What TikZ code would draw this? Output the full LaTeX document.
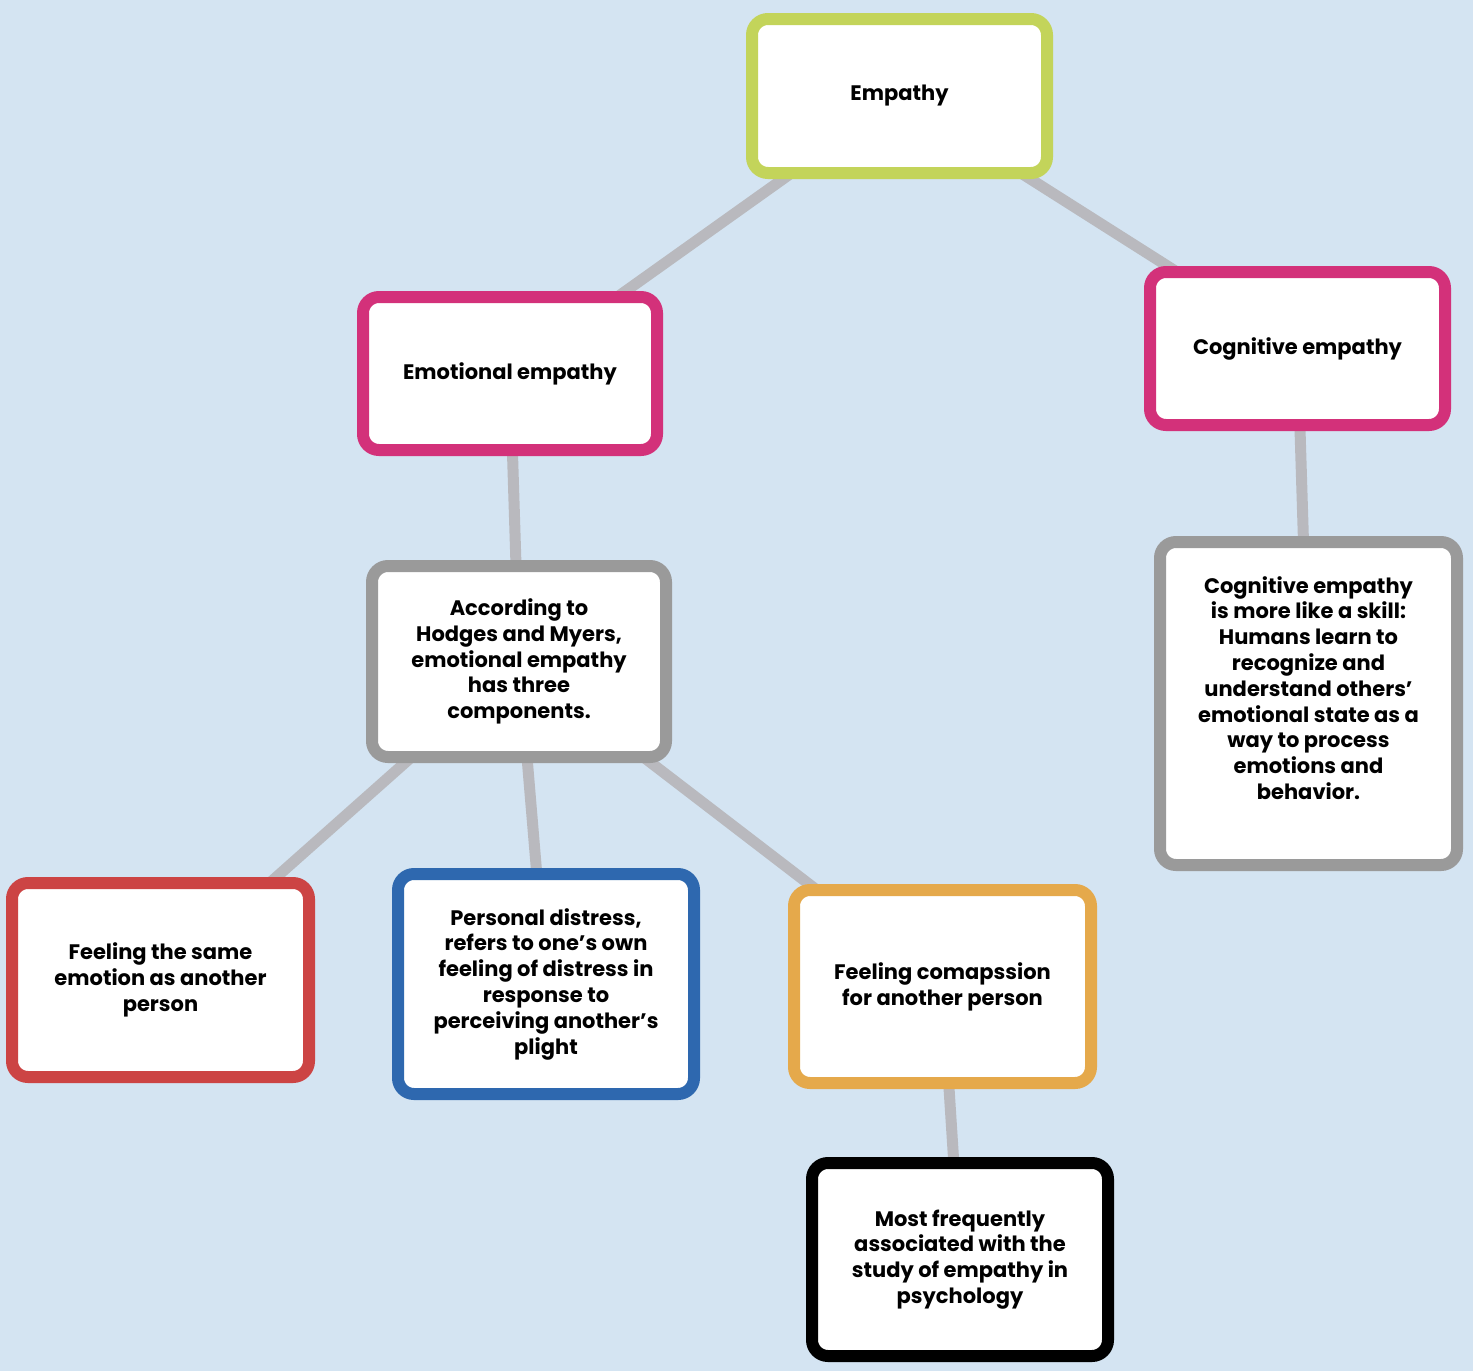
\documentclass[tikz,border=0pt]{standalone}
\usepackage{fontspec}
\setmainfont{Poppins}
\usetikzlibrary{backgrounds}
\definecolor{bgc}{HTML}{D4E4F2}
\definecolor{linkc}{HTML}{B9B9BE}
\definecolor{limec}{HTML}{C3D45A}
\definecolor{magc}{HTML}{D3317A}
\definecolor{grayc}{HTML}{9A9A9A}
\definecolor{redc}{HTML}{CC4444}
\definecolor{bluec}{HTML}{2E68AF}
\definecolor{orac}{HTML}{E5A94B}
\begin{document}
\begin{tikzpicture}[x=1pt,y=-1pt,
  bx/.style={draw, line width=12pt, rounded corners=16pt, fill=white, inner sep=0pt,
    align=center, font=\bfseries\fontsize{21}{25.8}\selectfont},
  link/.style={draw=linkc, line width=11pt}]
\useasboundingbox (0,0) rectangle (1473,1371);
\node[bx, draw=limec, minimum width=295pt, minimum height=154pt] (emp) at (899.5,96) {Empathy};
\node[bx, draw=magc, minimum width=294pt, minimum height=153pt] (emo) at (510,373.5) {Emotional empathy};
\node[bx, draw=magc, minimum width=295pt, minimum height=153pt] (cog) at (1297.5,348.5) {Cognitive empathy};
\node[bx, draw=grayc, minimum width=294pt, minimum height=191pt] (acc) at (519,661.5)
  {According to\\Hodges and Myers,\\emotional empathy\\has three\\components.};
\node[bx, draw=grayc, minimum width=297pt, minimum height=323pt] (cogt) at (1308.5,703.5)
  {\parbox{280pt}{\centering Cognitive empathy\\is more like a skill:\\Humans learn to\\recognize and\\understand others’\\emotional state as a\\way to process\\emotions and\\behavior.\par\vspace*{31pt}}};
\node[bx, draw=redc, minimum width=297pt, minimum height=194pt] (same) at (160.5,980)
  {Feeling the same\\emotion as another\\person};
\node[bx, draw=bluec, minimum width=296pt, minimum height=220pt] (pers) at (546,984)
  {Personal distress,\\refers to one’s own\\feeling of distress in\\response to\\perceiving another’s\\plight};
\node[bx, draw=orac, minimum width=297pt, minimum height=193pt] (comp) at (942.5,986.5)
  {Feeling comapssion\\for another person};
\node[bx, draw=black, minimum width=296pt, minimum height=193pt] (most) at (960,1259.5)
  {Most frequently\\associated with the\\study of empathy in\\psychology};
\begin{scope}[on background layer]
\fill[bgc] (0,0) rectangle (1473,1371);
\draw[link] (emp.center) -- (emo.center);
\draw[link] (emp.center) -- (cog.center);
\draw[link] (emo.center) -- (acc.center);
\draw[link] (cog.center) -- (cogt.center);
\draw[link] (acc.center) -- (same.center);
\draw[link] (acc.center) -- (pers.center);
\draw[link] (acc.center) -- (comp.center);
\draw[link] (comp.center) -- (most.center);
\end{scope}
\end{tikzpicture}
\end{document}
